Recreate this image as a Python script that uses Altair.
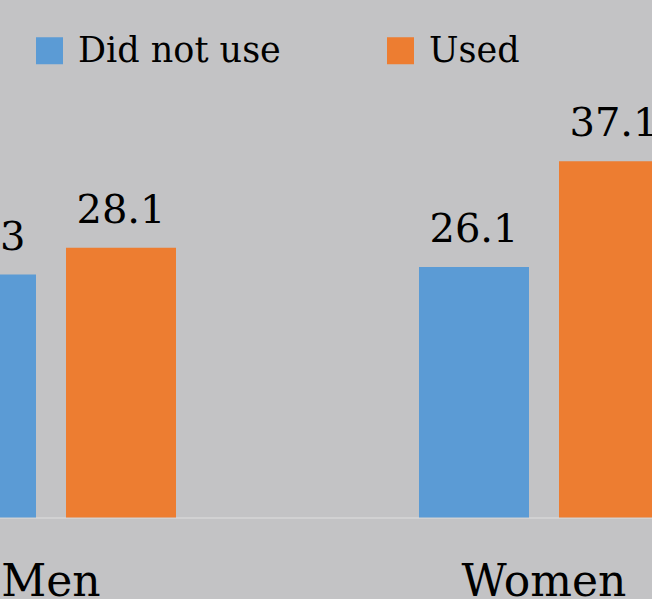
import altair as alt
import pandas as pd

genders = ["Men", "Men", "Women", "Women"]
usage = ["Did not use", "Used", "Did not use", "Used"]
values = [25.3, 28.1, 26.1, 37.1]
series = ["Did not use", "Used"]
colors = ["#5b9bd5", "#ed7d31"]
categories = ["Men", "Women"]

df = pd.DataFrame({"gender": genders, "usage": usage, "value": values})

FONT = "DejaVu Serif"

x = alt.X(
    "gender:N", title=None, sort=categories,
    scale=alt.Scale(range=[-74, 669], paddingInner=0.4929, paddingOuter=0),
    axis=alt.Axis(labelAngle=0, labelFont=FONT, labelFontSize=44, labelColor="black",
                  labelPadding=78, labelBaseline="alphabetic", ticks=False, tickSize=0,
                  domainColor="#d6d6d6", domainWidth=1.5, grid=False),
)
xo = alt.XOffset("usage:N", sort=series,
                 scale=alt.Scale(paddingInner=0.2143, paddingOuter=0))
y = alt.Y("value:Q", scale=alt.Scale(domain=[0, 53.9], nice=False), axis=None)

bars = alt.Chart(df).mark_bar().encode(
    x=x, xOffset=xo, y=y,
    color=alt.Color(
        "usage:N", sort=series,
        scale=alt.Scale(domain=series, range=colors),
        legend=alt.Legend(
            title=None, orient="none", direction="horizontal",
            legendX=32, legendY=33,
            symbolType="square", symbolSize=729, symbolStrokeWidth=0,
            symbolOpacity=1,
            labelFont=FONT, labelFontSize=35, labelColor="black",
            labelOffset=11, columnPadding=102, labelLimit=400,
        ),
    ),
)

labels = alt.Chart(df).mark_text(
    dy=-25, baseline="alphabetic", font=FONT, fontSize=40, color="black"
).encode(
    x=x, xOffset=xo, y=y, text=alt.Text("value:Q", format=".1f")
)

chart = alt.layer(bars, labels).properties(
    width=652, height=517.5,
    padding={"left": 0, "top": 0, "right": 0, "bottom": 81.5},
    autosize=alt.AutoSizeParams(type="none"),
    background="#c3c3c5",
).configure_view(stroke=None)

chart.save("out.html", embed_options={"renderer": "svg", "actions": False})
